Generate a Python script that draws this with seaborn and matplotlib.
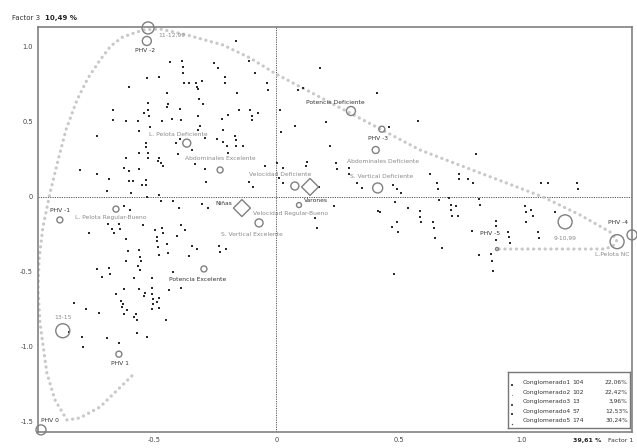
import numpy as np
import pandas as pd
import seaborn as sns
import matplotlib.pyplot as plt

# individuos (coordenadas factoriales, factor 1 x factor 3)
ind_x = [-0.165, -0.435, -0.386, -0.382, -0.382, -0.255, -0.239, -0.112, -0.088, -0.210,
         -0.210, -0.529, -0.480, -0.602, -0.378, -0.357, -0.329, -0.324, -0.304, -0.320,
         -0.447, -0.161, -0.039, -0.035, -0.316, -0.300, -0.443, -0.447, -0.524, -0.541,
         -0.524, -0.394, -0.667, -0.667, -0.614, -0.565, -0.520, -0.467, -0.427, -0.390,
         -0.320, -0.222, -0.198, -0.153, -0.108, -0.076, -0.100, -0.100, -0.516, -0.312,
         -0.561, -0.320, -0.218, -0.733, -0.394, -0.410, -0.292, -0.243, -0.218, -0.169,
         -0.165, -0.202, -0.165, -0.137, -0.533, -0.533, -0.561, -0.524, -0.345, -0.402,
         -0.614, -0.524, -0.480, -0.484, -0.471, -0.463, -0.333, -0.198, -0.622, -0.602,
         -0.561, -0.733, -0.684, -0.602, -0.586, -0.533, -0.549, -0.533, -0.292, -0.288,
         -0.112, -0.096, -0.047, -0.692, -0.594, -0.480, -0.802,
         -0.622, -0.598, -0.529, -0.471, -0.422, -0.398, -0.304, -0.280, -0.765, -0.688,
         -0.643, -0.671, -0.663, -0.639, -0.545, -0.496, -0.467, -0.463, -0.488, -0.488,
         -0.390, -0.373, -0.406, -0.614, -0.447, -0.484, -0.480, -0.443, -0.345, -0.324,
         -0.357, -0.235, -0.206, -0.231, -0.606, -0.561, -0.557, -0.553, -0.614, -0.565,
         -0.557, -0.733, -0.684, -0.680, -0.712, -0.582, -0.508, -0.422, -0.622, -0.561,
         -0.537, -0.541, -0.655, -0.508, -0.508, -0.480, -0.439, -0.390, -0.504, -0.488,
         -0.504, -0.480, -0.508, -0.635, -0.627, -0.631, -0.610, -0.622, -0.573, -0.582,
         -0.569, -0.827, -0.778, -0.724, -0.451, -0.847, -0.794, -0.790, -0.692, -0.643,
         -0.569, -0.529,
         0.178, 0.410, 0.088, 0.108, 0.014, 0.202, 0.076, 0.018, 0.459, 0.578,
         0.218, 0.124, 0.120, 0.002, 0.243, 0.247, 0.296, 0.296, 0.027, 0.010,
         0.027, 0.173, 0.329, 0.349, 0.476, 0.492, 0.508, 0.627, 0.655, 0.659,
         0.745, 0.745, 0.782, 0.802, 1.080, 1.108, 1.227, 1.231, 0.814,
         0.235, 0.157, 0.165, 0.414, 0.422, 0.484, 0.492, 0.471, 0.496, 0.537,
         0.586, 0.586, 0.590, 0.639, 0.643, 0.647, 0.676, 0.480, 0.663, 0.704,
         0.712, 0.733, 0.712, 0.716, 0.741, 0.827, 0.831, 0.798, 0.827, 0.876,
         0.880, 0.884, 0.896, 0.896, 0.896, 0.945, 0.949, 0.953, 1.014, 1.018,
         1.039, 1.047, 1.018, 1.067, 1.071, 1.137]
ind_y = [1.038, 0.898, 0.905, 0.865, 0.825, 0.891, 0.858, 0.905, 0.825, 0.798,
         0.758, 0.791, 0.798, 0.731, 0.758, 0.758, 0.758, 0.731, 0.771, 0.718,
         0.691, 0.691, 0.758, 0.711, 0.651, 0.618, 0.618, 0.598, 0.625, 0.558,
         0.578, 0.585, 0.578, 0.511, 0.505, 0.505, 0.538, 0.505, 0.518, 0.511,
         0.538, 0.518, 0.545, 0.578, 0.578, 0.558, 0.538, 0.511, 0.465, 0.471,
         0.438, 0.445, 0.445, 0.405, 0.385, 0.358, 0.391, 0.385, 0.365, 0.405,
         0.378, 0.338, 0.338, 0.338, 0.358, 0.331, 0.291, 0.291, 0.311, 0.285,
         0.258, 0.258, 0.258, 0.238, 0.225, 0.205, 0.218, 0.291, 0.191, 0.171,
         0.185, 0.151, 0.118, 0.105, 0.105, 0.111, 0.078, 0.078, 0.185, 0.098,
         0.098, 0.065, 0.205, 0.038, 0.025, 0.011, 0.178,
         -0.062, -0.089, -0.002, -0.029, -0.029, -0.075, -0.049, -0.075, -0.242, -0.182,
         -0.182, -0.215, -0.242, -0.215, -0.189, -0.222, -0.209, -0.242, -0.269, -0.295,
         -0.189, -0.222, -0.262, -0.282, -0.315, -0.335, -0.389, -0.375, -0.329, -0.349,
         -0.395, -0.329, -0.349, -0.369, -0.362, -0.355, -0.402, -0.429, -0.429, -0.462,
         -0.489, -0.482, -0.475, -0.515, -0.535, -0.542, -0.542, -0.502, -0.615, -0.615,
         -0.642, -0.662, -0.649, -0.609, -0.649, -0.675, -0.622, -0.609, -0.682, -0.702,
         -0.715, -0.742, -0.749, -0.695, -0.715, -0.735, -0.755, -0.782, -0.782, -0.802,
         -0.822, -0.709, -0.749, -0.775, -0.822, -0.902, -0.935, -1.002, -0.942, -0.975,
         -0.909, -0.935,
         0.858, 0.691, 0.711, 0.725, 0.578, 0.498, 0.471, 0.431, 0.465, 0.505,
         0.338, 0.231, 0.205, 0.225, 0.225, 0.185, 0.191, 0.151, 0.191, 0.125,
         0.091, 0.065, 0.091, 0.058, 0.078, 0.051, 0.025, 0.151, 0.091, 0.051,
         0.151, 0.118, 0.118, 0.091, 0.091, 0.091, 0.091, 0.051, 0.285,
         -0.062, -0.142, -0.209, -0.095, -0.102, -0.035, -0.169, -0.202, -0.235, -0.075,
         -0.095, -0.135, -0.169, -0.169, -0.209, -0.275, -0.342, -0.515, -0.022, -0.009,
         -0.055, -0.062, -0.089, -0.129, -0.129, -0.015, -0.055, -0.229, -0.389, -0.382,
         -0.429, -0.495, -0.162, -0.195, -0.289, -0.235, -0.269, -0.309, -0.062, -0.102,
         -0.089, -0.129, -0.169, -0.235, -0.275, -0.102]

# modalidades suplementarias
sup_names = ['11-12,99', 'PHV -2', 'L. Pelota Deficiente', 'Abdominales Excelente',
             'Potencia Deficiente', 'PHV -3', 'Abdominales Deficiente', 'S. Vertical Deficiente',
             'Velocidad Deficiente', 'Varones', 'Niñas', 'Velocidad Regular-Bueno',
             'S. Vertical Excelente', 'Potencia Excelente', 'PHV -1', 'L. Pelota Regular-Bueno',
             '13-15', 'PHV 1', 'PHV 0', '9-10,99', 'PHV -4', 'L.Pelota NC', 'PHV -5']
sup_x = [-0.524, -0.529, -0.366, -0.230, 0.304, 0.430, 0.405, 0.413,
         0.075, 0.137, -0.141, 0.092, -0.071, -0.296, -0.884, -0.655,
         -0.872, -0.643, -0.961, 1.178, 1.451, 1.390, 0.900]
sup_y = [1.125, 1.038, 0.357, 0.178, 0.571, 0.450, 0.311, 0.058,
         0.071, 0.065, -0.076, -0.056, -0.175, -0.482, -0.155, -0.083,
         -0.894, -1.050, -1.555, -0.168, -0.255, -0.300, -0.349]

# trayectoria PHV
curva_x = [-0.590, -0.720, -0.802, -0.855, -0.904, -0.937, -0.965, -0.973, -0.969, -0.953,
           -0.924, -0.891, -0.859, -0.814, -0.769, -0.720, -0.676, -0.627, -0.545, -0.476,
           -0.365, -0.218, -0.108, -0.002, 0.586, 0.831, 1.088, 1.239, 1.361, 1.390,
           1.373, 1.341, 1.239, 1.104, 0.900]
curva_y = [-1.195, -1.402, -1.475, -1.489, -1.355, -1.175, -0.842, -0.622, -0.422, -0.202,
           0.025, 0.245, 0.445, 0.645, 0.791, 0.911, 1.005, 1.065, 1.111, 1.118,
           1.078, 1.011, 0.925, 0.818, 0.311, 0.158, -0.002, -0.122, -0.235, -0.289,
           -0.329, -0.349, -0.349, -0.349, -0.349]

grupos = ['Conglomerado1', 'Conglomerado2', 'Conglomerado3', 'Conglomerado4', 'Conglomerado5']
grupos_n = [104, 102, 13, 57, 174]
grupos_pct = ['22,06%', '22,42%', '3,96%', '12,53%', '30,24%']

x_ticks = [-0.5, 0, 0.5, 1.0]
x_labels = ['-0.5', '0', '0.5', '1.0']
y_ticks = [-1.5, -1.0, -0.5, 0, 0.5, 1.0]
y_labels = ['-1.5', '-1.0', '-0.5', '0', '0.5', '1.0']

# estilo: (tipo, radio px, dx px, dy px, color texto)
GRIS = '#8a8a8a'
OSC = '#333333'
estilo = {
    '11-12,99': ('o', 6, 24, -7, GRIS),
    'PHV -2': ('o', 4.5, -2, -10, OSC),
    'L. Pelota Deficiente': ('o', 4, -8, 9, GRIS),
    'Abdominales Excelente': ('o', 3, 0, 11, GRIS),
    'Potencia Deficiente': ('o', 4.5, -16, 9, OSC),
    'PHV -3': ('o', 3, -4, -9, OSC),
    'Abdominales Deficiente': ('o', 3.5, 7, -11, GRIS),
    'S. Vertical Deficiente': ('o', 5, 4, 11, GRIS),
    'Velocidad Deficiente': ('o', 4, -15, 12, GRIS),
    'Varones': ('D', 6, 6, -14, OSC),
    'Niñas': ('D', 6, -18, 5, OSC),
    'Velocidad Regular-Bueno': ('o', 2.5, -8, -8, GRIS),
    'S. Vertical Excelente': ('o', 4, -7, -12, GRIS),
    'Potencia Excelente': ('o', 3, -6, -11, OSC),
    'PHV -1': ('o', 3, 0, 9, OSC),
    'L. Pelota Regular-Bueno': ('o', 3, -5, -8, GRIS),
    '13-15': ('o', 7, 0, 13, GRIS),
    'PHV 1': ('o', 3, 1, -9, OSC),
    'PHV 0': ('o', 5, 9, 9, OSC),
    '9-10,99': ('o', 7, 0, -16, GRIS),
    'PHV -4': ('o', 5, -14, 12, OSC),
    'L.Pelota NC': ('o', 7, -5, -13, GRIS),
    'PHV -5': ('o', 1.5, -7, 16, OSC),
}

sns.set_theme(style='white')
plt.rcParams['font.family'] = ['DejaVu Sans']

fig = plt.figure(figsize=(6.37, 4.48), dpi=100)
ax = fig.add_axes([0.0597, 0.0357, 0.9325, 0.904])

ax.axhline(0, color='#555555', lw=0.7, ls=(0, (1.2, 1.2)), zorder=1)
ax.axvline(0, color='#555555', lw=0.7, ls=(0, (1.2, 1.2)), zorder=1)

curva = pd.DataFrame({'x': curva_x, 'y': curva_y})
sns.lineplot(data=curva, x='x', y='y', sort=False, estimator=None, ax=ax,
             color='#c8c8c8', lw=2.3, linestyle=(0, (0.05, 1.75)),
             dash_capstyle='round', zorder=2)

ind = pd.DataFrame({'x': ind_x, 'y': ind_y})
sns.scatterplot(data=ind, x='x', y='y', ax=ax, s=4, color='#2a2a2a',
                marker='s', linewidth=0, zorder=3)

for nombre, x, y in zip(sup_names, sup_x, sup_y):
    tipo, r, dx, dy, col = estilo[nombre]
    d = 2 * r * 0.72
    ax.scatter([x], [y], s=d ** 2, marker=tipo, facecolors='none',
               edgecolors='#808080', linewidths=1.0, zorder=4, clip_on=False)
    ax.annotate(nombre, (x, y), xytext=(dx, dy), textcoords='offset pixels',
                ha='center', va='center', fontsize=4.3, color=col, zorder=5)

ax.set_xlim(-0.973, 1.451)
ax.set_ylim(-1.569, 1.131)
ax.set_xticks(x_ticks)
ax.set_xticklabels(x_labels)
ax.set_yticks(y_ticks)
ax.set_yticklabels(y_labels)
ax.tick_params(axis='both', labelsize=4.8, labelcolor='#444444', length=3,
               width=0.8, color='#666666', direction='inout', pad=2)
ax.set_xlabel('')
ax.set_ylabel('')
for sp in ax.spines.values():
    sp.set_visible(True)
    sp.set_color('#777777')
    sp.set_linewidth(1.1)

fig.text(12 / 637, 1 - 18 / 448, 'Factor 3', fontsize=5, color='#333333', va='center')
fig.text(45 / 637, 1 - 18 / 448, '10,49 %', fontsize=5, color='#222222',
         fontweight='bold', va='center')
fig.text(601 / 637, 1 - 440 / 448, '39,61 %', fontsize=4.5, color='#222222',
         fontweight='bold', va='center', ha='right')
fig.text(608 / 637, 1 - 440 / 448, 'Factor 1', fontsize=4.5, color='#333333', va='center')

# cuadro de conglomerados
leg = ax.inset_axes([0.791, 0.0099, 0.205, 0.138])
leg.set_xlim(0, 1)
leg.set_ylim(0, 1)
leg.set_xticks([])
leg.set_yticks([])
for sp in leg.spines.values():
    sp.set_color('#777777')
    sp.set_linewidth(1.0)
filas = [0.82, 0.64, 0.47, 0.30, 0.13]
marcas = ['s', '.', 's', 's', '*']
tonos = ['#444444', '#888888', '#555555', '#444444', '#333333']
for fy, g, n, p, m, c in zip(filas, grupos, grupos_n, grupos_pct, marcas, tonos):
    leg.scatter([0.035], [fy - 0.05], s=2.5, marker=m, color=c, linewidths=0)
    leg.text(0.12, fy, g, fontsize=4.3, color='#333333', va='center',
             family='Liberation Sans Narrow')
    leg.text(0.53, fy, str(n), fontsize=4.3, color='#333333', va='center',
             family='Liberation Sans Narrow')
    leg.text(0.985, fy, p, fontsize=4.3, color='#333333', va='center', ha='right',
             family='Liberation Sans Narrow')

fig.savefig('out.png', dpi=100)
